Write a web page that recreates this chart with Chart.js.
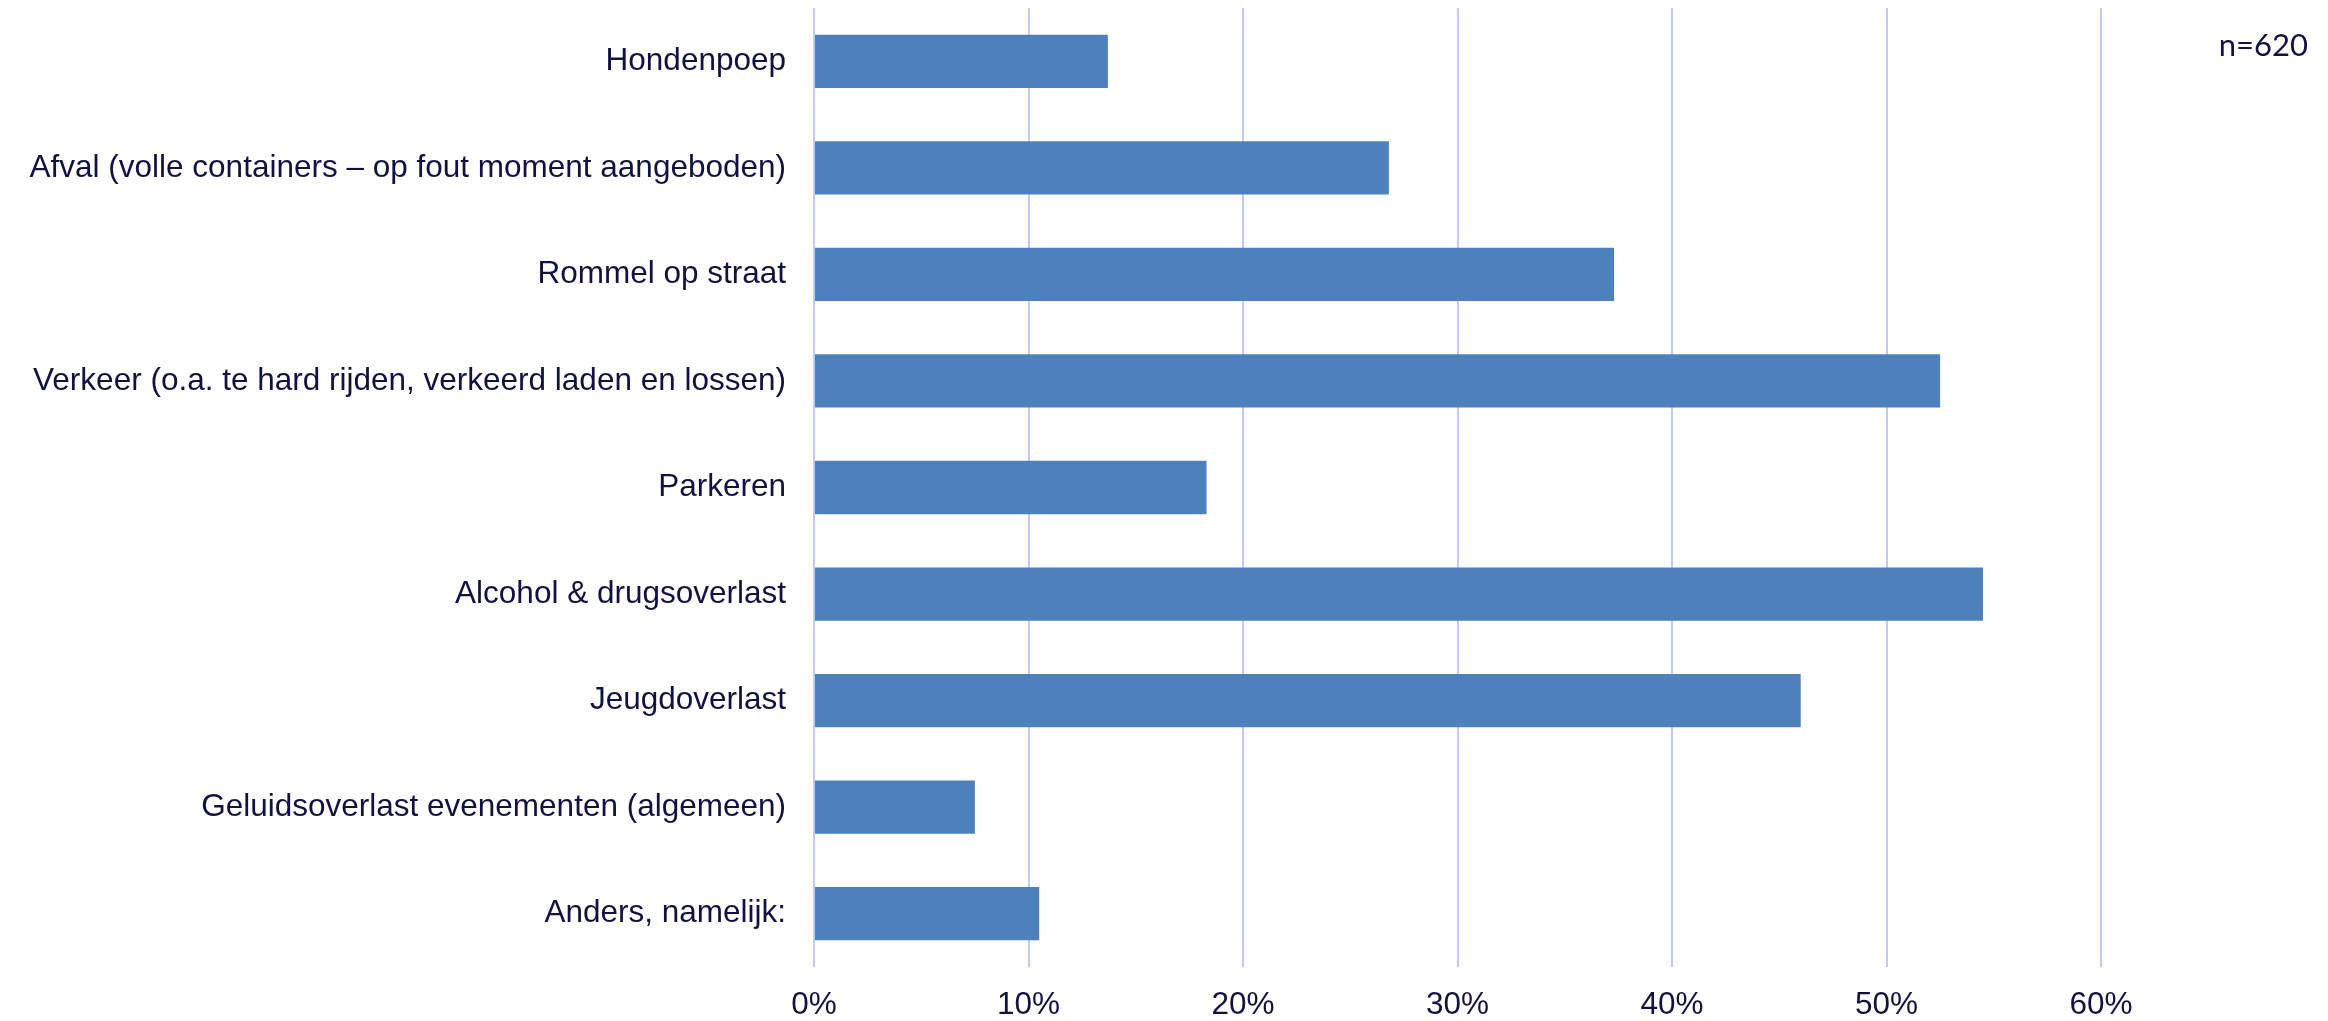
<!DOCTYPE html>
<html lang="nl">
<head>
    <meta charset="UTF-8">
    <title>Overlast</title>
    <script src="https://cdn.jsdelivr.net/npm/chart.js@4/dist/chart.umd.min.js"></script>
    <style>
        html, body { margin: 0; padding: 0; background: #fff; }
        #wrap { position: relative; width: 2328px; height: 1021px; }
        #n { position: absolute; right: 20px; top: 25px; font-family: Lato, "Open Sans", sans-serif; font-size: 31px; color: #10123f; }
    </style>
</head>
<body>
    <div id="wrap">
        <canvas id="chart" width="2328" height="1021"></canvas>
        <div id="n">n=620</div>
    </div>

    <script>
        const categories = [
            'Hondenpoep',
            'Afval (volle containers \u2013 op fout moment aangeboden)',
            'Rommel op straat',
            'Verkeer (o.a. te hard rijden, verkeerd laden en lossen)',
            'Parkeren',
            'Alcohol & drugsoverlast',
            'Jeugdoverlast',
            'Geluidsoverlast evenementen (algemeen)',
            'Anders, namelijk:'
        ];
        const percentages = [13.7, 26.8, 37.3, 52.5, 18.3, 54.5, 46.0, 7.5, 10.5];
        const tickValues = [0, 10, 20, 30, 40, 50, 60];

        const textColor = '#10123f';
        const labelFont = { family: "'Liberation Sans', Arial, sans-serif", size: 31.5 };

        const ctx = document.getElementById('chart').getContext('2d');
        new Chart(ctx, {
            type: 'bar',
            data: {
                labels: categories,
                datasets: [{
                    data: percentages,
                    backgroundColor: '#4e80bb',
                    borderWidth: 0,
                    categoryPercentage: 1,
                    barPercentage: 0.5
                }]
            },
            options: {
                indexAxis: 'y',
                responsive: false,
                animation: false,
                layout: { padding: { left: 0, right: 227, top: 8, bottom: 0 } },
                plugins: { legend: { display: false }, tooltip: { enabled: false } },
                scales: {
                    x: {
                        min: 0,
                        max: 60,
                        afterBuildTicks: s => { s.ticks = tickValues.map(v => ({ value: v })); },
                        afterFit: s => { s.height = 54; s.paddingLeft = 0; s.paddingRight = 0; },
                        grid: { color: '#c3c9f6', lineWidth: 2, drawTicks: false },
                        border: { display: false },
                        ticks: {
                            padding: 19,
                            color: textColor,
                            font: labelFont,
                            callback: v => v + '%'
                        }
                    },
                    y: {
                        afterFit: s => { s.width = 814; s.paddingTop = 0; s.paddingBottom = 0; },
                        grid: { display: false, drawTicks: false },
                        border: { display: false },
                        ticks: {
                            padding: 28,
                            color: textColor,
                            font: labelFont
                        }
                    }
                }
            }
        });
    </script>
</body>
</html>
